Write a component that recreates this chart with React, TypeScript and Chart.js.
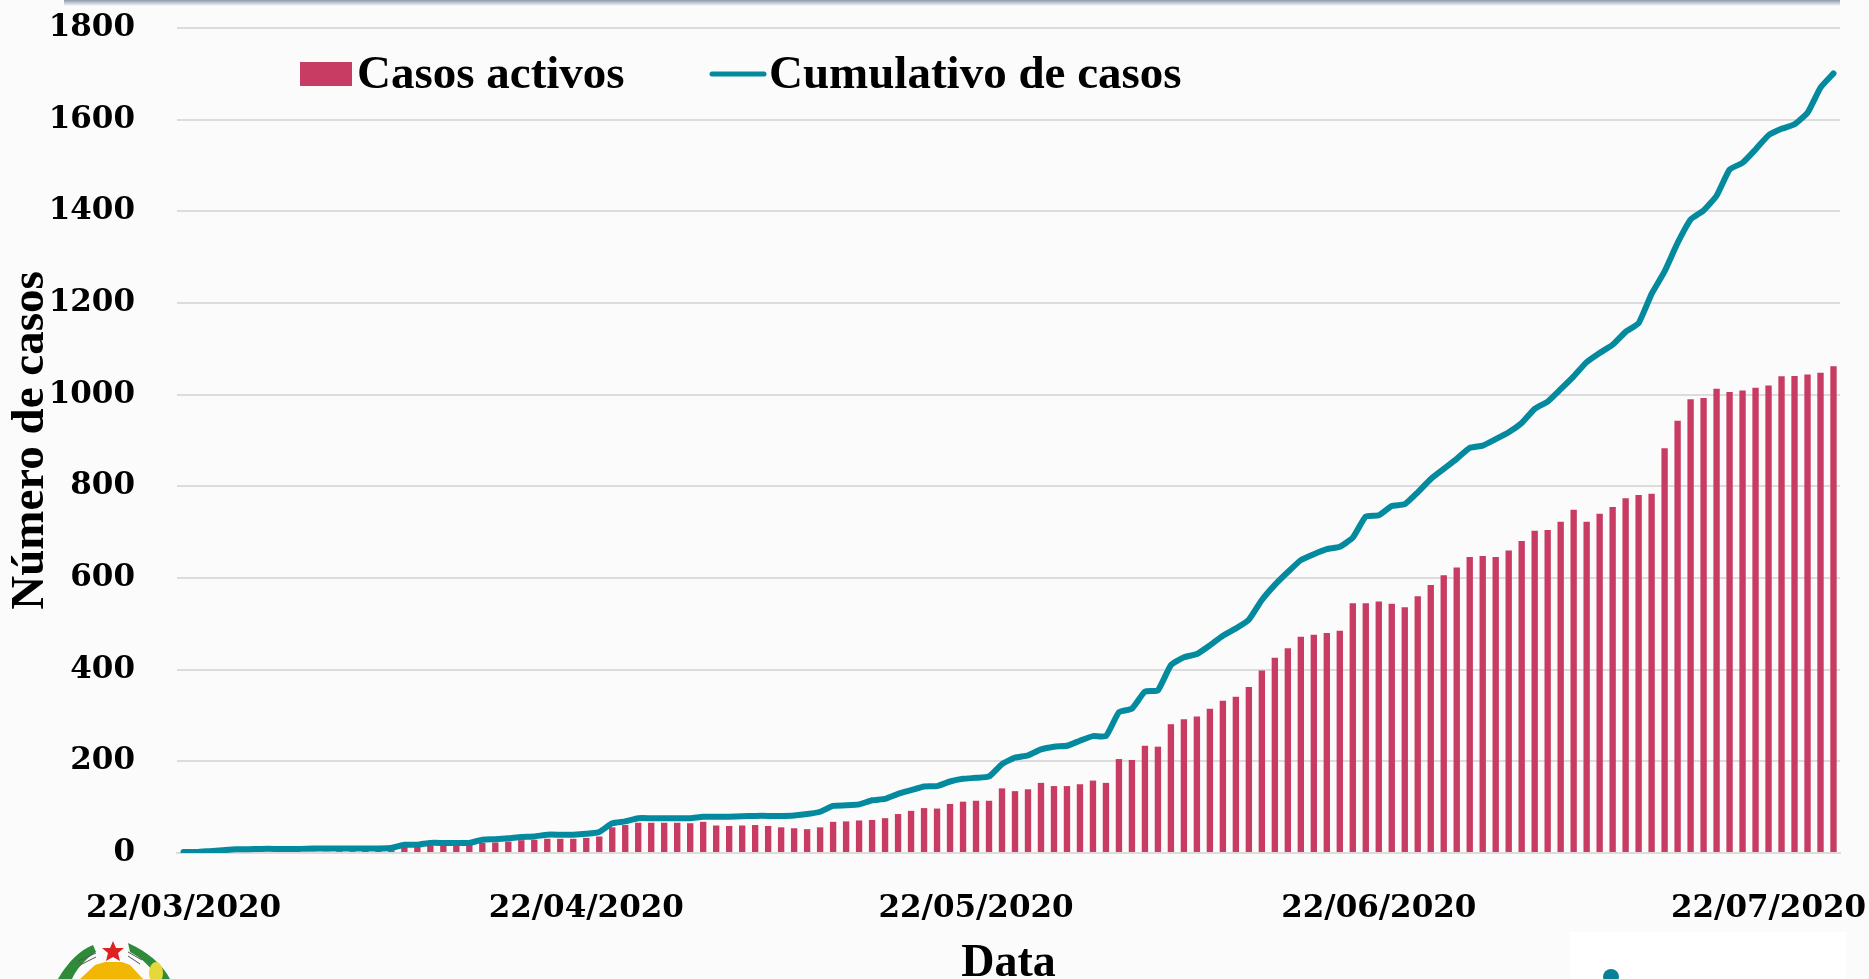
import React, { useEffect, useRef } from "react";
import { Chart, registerables } from "chart.js";

Chart.register(...registerables);

const dates = [
  "22/03/2020","23/03/2020","24/03/2020","25/03/2020","26/03/2020","27/03/2020","28/03/2020","29/03/2020","30/03/2020","31/03/2020",
  "01/04/2020","02/04/2020","03/04/2020","04/04/2020","05/04/2020","06/04/2020","07/04/2020","08/04/2020","09/04/2020","10/04/2020",
  "11/04/2020","12/04/2020","13/04/2020","14/04/2020","15/04/2020","16/04/2020","17/04/2020","18/04/2020","19/04/2020","20/04/2020",
  "21/04/2020","22/04/2020","23/04/2020","24/04/2020","25/04/2020","26/04/2020","27/04/2020","28/04/2020","29/04/2020","30/04/2020",
  "01/05/2020","02/05/2020","03/05/2020","04/05/2020","05/05/2020","06/05/2020","07/05/2020","08/05/2020","09/05/2020","10/05/2020",
  "11/05/2020","12/05/2020","13/05/2020","14/05/2020","15/05/2020","16/05/2020","17/05/2020","18/05/2020","19/05/2020","20/05/2020",
  "21/05/2020","22/05/2020","23/05/2020","24/05/2020","25/05/2020","26/05/2020","27/05/2020","28/05/2020","29/05/2020","30/05/2020",
  "31/05/2020","01/06/2020","02/06/2020","03/06/2020","04/06/2020","05/06/2020","06/06/2020","07/06/2020","08/06/2020","09/06/2020",
  "10/06/2020","11/06/2020","12/06/2020","13/06/2020","14/06/2020","15/06/2020","16/06/2020","17/06/2020","18/06/2020","19/06/2020",
  "20/06/2020","21/06/2020","22/06/2020","23/06/2020","24/06/2020","25/06/2020","26/06/2020","27/06/2020","28/06/2020","29/06/2020",
  "30/06/2020","01/07/2020","02/07/2020","03/07/2020","04/07/2020","05/07/2020","06/07/2020","07/07/2020","08/07/2020","09/07/2020",
  "10/07/2020","11/07/2020","12/07/2020","13/07/2020","14/07/2020","15/07/2020","16/07/2020","17/07/2020","18/07/2020","19/07/2020",
  "20/07/2020","21/07/2020","22/07/2020","23/07/2020","24/07/2020","25/07/2020","26/07/2020","27/07/2020",
];

const shownDates = ["22/03/2020", "22/04/2020", "22/05/2020", "22/06/2020", "22/07/2020"];

const activeCases = [
  0,0,0,0,0,0,0,0,0,0,
  3,3,4,4,5,5,6,14,14,16,
  17,18,18,22,23,25,28,29,31,31,
  31,33,36,56,61,66,66,66,66,65,
  68,60,59,60,61,59,56,54,52,56,
  68,69,71,72,76,85,92,98,97,107,
  112,114,114,141,135,139,153,146,146,150,
  158,153,205,203,234,232,281,292,298,315,
  332,341,362,398,426,447,472,476,480,485,
  545,545,549,544,536,560,585,606,623,646,
  648,646,660,681,703,705,723,749,723,740,
  755,774,781,784,883,943,990,993,1013,1006,
  1009,1015,1020,1040,1041,1044,1048,1062,
];

const cumulativeCases = [
  2,2,4,6,8,8,9,9,9,9,
  10,10,10,10,10,10,11,18,18,22,
  22,22,22,29,30,32,35,36,40,40,
  40,42,46,65,69,76,76,76,76,76,
  79,79,79,80,81,81,81,82,85,90,
  103,104,106,115,118,129,137,145,146,156,
  162,164,167,194,208,213,226,232,234,245,
  255,255,307,315,352,355,410,427,434,453,
  474,490,509,552,585,613,639,652,663,668,
  688,734,737,757,761,787,816,838,860,884,
  889,903,918,938,969,985,1012,1040,1071,1091,
  1109,1137,1156,1220,1269,1331,1382,1402,1434,1491,
  1506,1535,1566,1580,1590,1615,1670,1701,
];

const yTicks = [0, 200, 400, 600, 800, 1000, 1200, 1400, 1600, 1800];

const TEXT = "#000000";
const NUM_FONT = "'DejaVu Serif'";
const WORD_FONT = "'Liberation Serif'";
const RED = "#C83C64";
const TEAL = "#048A9E";
const GRID = "#DCDCDC";

const legendPlugin = {
  id: "floatingLegend",
  afterDraw(chart: any) {
    const ctx = chart.ctx;
    const [bars, line] = chart.data.datasets;
    ctx.save();
    ctx.font = `bold 47px ${WORD_FONT}`;
    ctx.textBaseline = "middle";
    ctx.fillStyle = bars.backgroundColor;
    ctx.fillRect(300, 62, 52, 24);
    ctx.fillStyle = TEXT;
    ctx.fillText(bars.label, 357, 76);
    ctx.strokeStyle = line.borderColor;
    ctx.lineWidth = 5;
    ctx.lineCap = "round";
    ctx.beginPath();
    ctx.moveTo(712, 74);
    ctx.lineTo(764, 74);
    ctx.stroke();
    ctx.fillText(line.label, 769, 76);
    ctx.restore();
  },
};

function Emblem() {
  return (
    <svg
      width={170}
      height={49}
      viewBox="0 0 170 49"
      style={{ position: "absolute", left: 30, top: 930 }}
    >
      <path d="M63,15 C50,20 38,32 28,49 L42,49 C46,40 54,30 66,22 Z" fill="#2E8B3A" />
      <path d="M98,13 C118,22 132,34 140,49 L128,49 C122,38 112,28 100,22 Z" fill="#2E8B3A" />
      <ellipse cx={126} cy={43} rx={7} ry={11} fill="#E6D83A" />
      <path d="M50,49 L65,35 L75,32 L92,32 L100,35 L113,49 Z" fill="#F2B705" />
      <path d="M48,31 L66,23 M50,35 L66,27 M98,22 L112,30 M98,26 L110,34" stroke="#555" strokeWidth={1} />
      <polygon
        points="83,11 86,18 94,18 88,23 90,31 83,27 76,31 78,23 72,18 80,18"
        fill="#DD2222"
      />
    </svg>
  );
}

export default function App() {
  const ref = useRef<HTMLCanvasElement>(null);

  useEffect(() => {
    const chart = new Chart(ref.current!, {
      type: "bar",
      plugins: [legendPlugin],
      data: {
        labels: dates,
        datasets: [
          {
            type: "bar",
            label: "Casos activos",
            data: activeCases,
            backgroundColor: RED,
            categoryPercentage: 1,
            barPercentage: 0.49,
            order: 2,
          },
          {
            type: "line",
            label: "Cumulativo de casos",
            data: cumulativeCases,
            borderColor: TEAL,
            borderWidth: 6,
            pointRadius: 0,
            tension: 0.15,
            borderCapStyle: "round",
            borderJoinStyle: "round",
            fill: false,
            order: 1,
          },
        ],
      } as any,
      options: {
        responsive: false,
        animation: false,
        layout: { padding: { top: 28, right: 29, left: 0, bottom: 0 }, autoPadding: false },
        plugins: { legend: { display: false }, tooltip: { enabled: false } },
        scales: {
          x: {
            offset: true,
            grid: { display: false, drawTicks: false },
            border: { display: true, color: GRID, width: 2 },
            afterFit(scale: any) {
              scale.height = 126;
              scale.paddingLeft = 0;
              scale.paddingRight = 0;
            },
            ticks: {
              autoSkip: false,
              maxRotation: 0,
              minRotation: 0,
              padding: 37,
              color: TEXT,
              font: { family: NUM_FONT, weight: "bold", size: 31 },
              callback(this: any, value: any) {
                const label = this.getLabelForValue(value);
                return shownDates.includes(label) ? label : "";
              },
            },
            title: {
              display: true,
              text: "Data",
              color: TEXT,
              font: { family: WORD_FONT, weight: "bold", size: 46 },
              padding: { top: 6, bottom: -13 },
            },
          },
          y: {
            min: 0,
            max: 1800,
            grid: { color: GRID, lineWidth: 2, drawTicks: false },
            border: { display: false },
            afterFit(scale: any) {
              scale.width = 177;
              scale.paddingTop = 0;
              scale.paddingBottom = 0;
            },
            afterBuildTicks(scale: any) {
              scale.ticks = yTicks.map((value) => ({ value }));
            },
            ticks: {
              padding: 42,
              color: TEXT,
              font: { family: NUM_FONT, weight: "bold", size: 31 },
              callback(value: any) {
                return String(value);
              },
            },
            title: {
              display: true,
              text: "Número de casos",
              color: TEXT,
              font: { family: WORD_FONT, weight: "bold", size: 47 },
              padding: { top: 3, bottom: 0 },
            },
          },
        },
      },
    } as any);
    return () => chart.destroy();
  }, []);

  return (
    <div
      style={{
        position: "absolute",
        left: 0,
        top: 0,
        width: 1869,
        height: 979,
        overflow: "hidden",
        background: "#FBFBFB",
      }}
    >
      <div
        style={{
          position: "absolute",
          left: 64,
          right: 29,
          top: 0,
          height: 6,
          background: "linear-gradient(#8A9BAC, #FBFBFB)",
        }}
      />
      <canvas ref={ref} width={1869} height={979} style={{ display: "block", position: "absolute", left: 0, top: 0 }} />
      <div style={{ position: "absolute", left: 1570, top: 932, width: 276, height: 47, background: "#FFFFFF" }} />
      <div
        style={{
          position: "absolute",
          left: 1603,
          top: 969,
          width: 16,
          height: 16,
          borderRadius: "50%",
          background: "#0A7F9A",
        }}
      />
      <Emblem />
    </div>
  );
}
